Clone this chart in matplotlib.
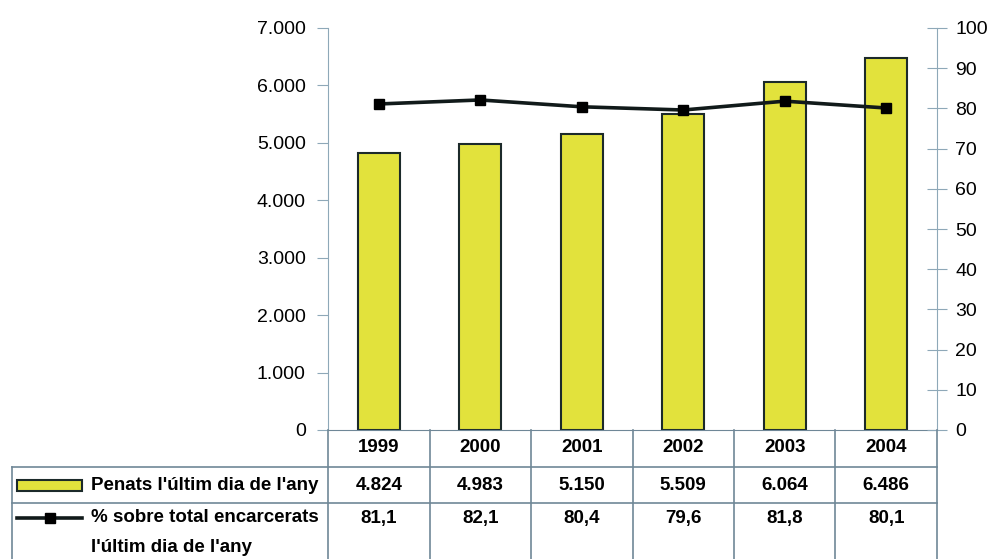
import matplotlib
matplotlib.use("Agg")
import matplotlib.pyplot as plt
from matplotlib.lines import Line2D
from matplotlib.patches import Rectangle

plt.rcParams["font.family"] = ["Liberation Sans", "DejaVu Sans"]

# Data
years = ["1999", "2000", "2001", "2002", "2003", "2004"]
penats = [4824, 4983, 5150, 5509, 6064, 6486]
penats_labels = ["4.824", "4.983", "5.150", "5.509", "6.064", "6.486"]
pct = [81.1, 82.1, 80.4, 79.6, 81.8, 80.1]
pct_labels = ["81,1", "82,1", "80,4", "79,6", "81,8", "80,1"]
left_ticks = [0, 1000, 2000, 3000, 4000, 5000, 6000, 7000]
left_ticklabels = ["0", "1.000", "2.000", "3.000", "4.000", "5.000", "6.000", "7.000"]
right_ticks = list(range(0, 101, 10))

BAR_COLOR = "#e2e23c"
EDGE = "#1c2a2a"
AXIS_COLOR = "#8ea8b8"
TABLE_COLOR = "#6f8797"
FS = 14
TFS = 13.5

W, H = 995, 559
fig = plt.figure(figsize=(W / 100, H / 100), dpi=100)


def fx(px):
    return px / W


def fy(py):
    return 1 - py / H


# plot area in pixel coordinates
X0, X1 = 328, 937
Y0, Y1 = 430, 28
ax = fig.add_axes([fx(X0), fy(Y0), fx(X1) - fx(X0), fy(Y1) - fy(Y0)])
ax2 = ax.twinx()
ax2.patch.set_visible(False)

x = list(range(len(years)))
ax.bar(x, penats, width=0.41, color=BAR_COLOR, edgecolor=EDGE, linewidth=1.5, zorder=2)
ax.set_xlim(-0.5, len(years) - 0.5)
ax.set_ylim(0, 7000)
ax.set_yticks(left_ticks)
ax.set_yticklabels(left_ticklabels, fontsize=FS)
ax.set_xticks([])
for s in ["top", "right"]:
    ax.spines[s].set_visible(False)
ax.spines["left"].set_color(AXIS_COLOR)
ax.spines["bottom"].set_color(TABLE_COLOR)
ax.tick_params(axis="y", direction="out", length=8, color=AXIS_COLOR, pad=8)

ax2.plot(x, pct, color="#111a1a", linewidth=2.6, marker="s", markersize=7,
         markerfacecolor="black", markeredgecolor="black", zorder=3)
ax2.set_ylim(0, 100)
ax2.set_yticks(right_ticks)
for s in ["top", "left", "bottom"]:
    ax2.spines[s].set_visible(False)
ax2.spines["right"].set_color(AXIS_COLOR)
ax2.tick_params(axis="y", direction="inout", length=14, color=AXIS_COLOR, labelsize=FS, pad=6)

# data table below the plot, drawn in figure coordinates
col_edges = [X0 + i * (X1 - X0) / len(years) for i in range(len(years) + 1)]
row_y = [467, 503]
lkw = dict(color=TABLE_COLOR, linewidth=1.2, transform=fig.transFigure)
for yy in row_y:
    fig.add_artist(Line2D([fx(12), fx(X1)], [fy(yy), fy(yy)], **lkw))
fig.add_artist(Line2D([fx(12), fx(12)], [fy(467), fy(H)], **lkw))
for xe in col_edges:
    fig.add_artist(Line2D([fx(xe), fx(xe)], [fy(Y0), fy(H)], **lkw))

for i in range(len(years)):
    cx = fx((col_edges[i] + col_edges[i + 1]) / 2)
    fig.text(cx, fy(448), years[i], ha="center", va="center", fontsize=TFS, fontweight="bold")
    fig.text(cx, fy(485), penats_labels[i], ha="center", va="center", fontsize=TFS, fontweight="bold")
    fig.text(cx, fy(518), pct_labels[i], ha="center", va="center", fontsize=TFS, fontweight="bold")

# legend keys
fig.add_artist(Rectangle((fx(17), fy(491)), fx(82) - fx(17), fy(480) - fy(491),
                         facecolor=BAR_COLOR, edgecolor=EDGE, linewidth=1.5,
                         transform=fig.transFigure))
fig.add_artist(Line2D([fx(17), fx(82)], [fy(518), fy(518)], color="#111a1a", linewidth=2.6,
                      transform=fig.transFigure))
fig.add_artist(Line2D([fx(50)], [fy(518)], marker="s", markersize=7, color="black",
                      transform=fig.transFigure))
fig.text(fx(91), fy(485), "Penats l'últim dia de l'any", ha="left", va="center",
         fontsize=TFS, fontweight="bold")
fig.text(fx(91), fy(518), "% sobre total encarcerats", ha="left", va="center",
         fontsize=TFS, fontweight="bold")
fig.text(fx(91), fy(548), "l'últim dia de l'any", ha="left", va="center",
         fontsize=TFS, fontweight="bold")

fig.savefig("out.png", dpi=100)
